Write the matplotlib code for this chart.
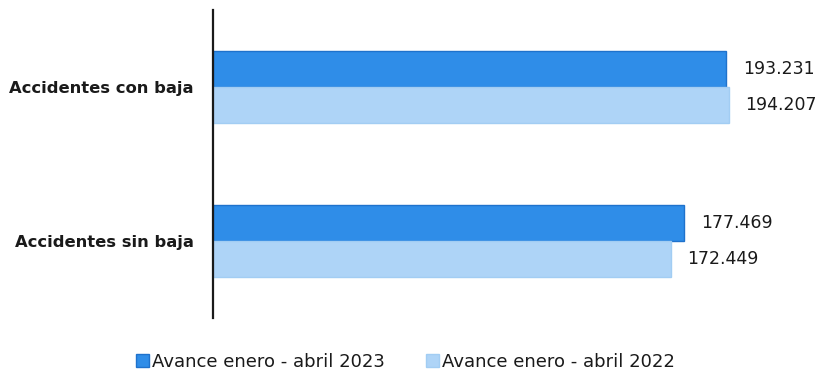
import matplotlib.pyplot as plt
import numpy as np

categories = ['Accidentes con baja', 'Accidentes sin baja']
series_names = ['Avance enero - abril 2023', 'Avance enero - abril 2022']
values_2023 = [193231, 177469]
values_2022 = [194207, 172449]

colors = ['#2F8DE8', '#AED4F7']
edges = ['#1F72CC', '#A2CDF3']


def fmt_es(v):
    # Spanish thousands separator
    return '{:,}'.format(v).replace(',', '.')


def main():
    plt.rcParams['font.family'] = ['DejaVu Sans']

    fig = plt.figure(figsize=(8.19, 3.74), dpi=100)
    ax = fig.add_axes([213 / 819, 1 - 318 / 374, (819 - 213) / 819, 308 / 374])

    y = np.arange(len(categories))
    h = 0.234
    for i, vals in enumerate([values_2023, values_2022]):
        pos = y - h / 2 + i * h
        bars = ax.barh(pos, vals, height=h, color=colors[i], edgecolor=edges[i],
                       linewidth=1.0, label=series_names[i])
        for b, v in zip(bars, vals):
            ax.annotate(fmt_es(v), xy=(b.get_width(), b.get_y() + b.get_height() / 2),
                        xytext=(12, 0), textcoords='offset points',
                        va='center', ha='left', fontsize=12.5, color='#1a1a1a')

    ax.set_xlim(0, 606 / 2.655 * 1000)
    ax.set_ylim(1.5, -0.5)
    ax.set_yticks(y)
    ax.set_yticklabels(categories, fontsize=11.8, fontweight='bold', color='#1a1a1a')
    ax.tick_params(axis='y', length=0, pad=14)
    ax.set_xticks([])
    for s in ['top', 'right', 'bottom']:
        ax.spines[s].set_visible(False)
    ax.spines['left'].set_linewidth(1.6)
    ax.spines['left'].set_color('#1a1a1a')

    fig.legend(loc='lower center', bbox_to_anchor=(0.495, -0.035), ncol=2, frameon=False,
               fontsize=13, handlelength=0.72, handleheight=0.72, handletextpad=0.15,
               columnspacing=2.3, labelcolor='#1a1a1a')

    plt.savefig('out.png', dpi=100)


if __name__ == '__main__':
    main()
